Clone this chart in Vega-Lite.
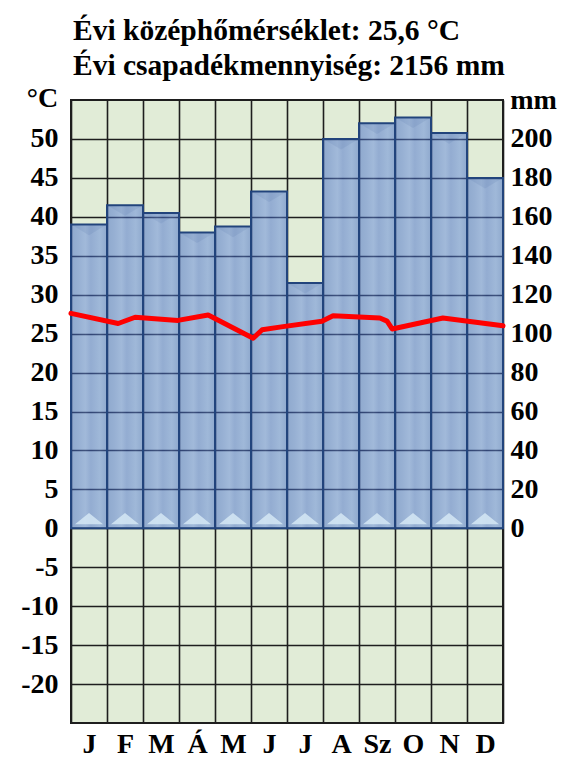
{
  "$schema": "https://vega.github.io/schema/vega-lite/v6.json",
  "width": 432,
  "height": 623,
  "autosize": {"type": "none"},
  "padding": {"left": 71, "top": 100, "right": 73, "bottom": 52},
  "background": "white",
  "title": {
    "text": ["Évi középhőmérséklet: 25,6 °C", "Évi csapadékmennyiség: 2156 mm"],
    "anchor": "start",
    "frame": "group",
    "font": "Liberation Serif",
    "fontWeight": "bold",
    "fontSize": 29.5,
    "lineHeight": 35,
    "color": "black",
    "offset": 3,
    "dx": 2
  },
  "config": {
    "view": {"stroke": "#1e1e1e", "strokeWidth": 2, "fill": "#e1ecd7"},
    "axis": {
      "labelFont": "Liberation Serif",
      "labelFontWeight": "bold",
      "labelFontSize": 28,
      "labelColor": "black",
      "titleFont": "Liberation Serif",
      "titleFontWeight": "bold",
      "titleFontSize": 28,
      "titleColor": "black",
      "ticks": false,
      "domain": false
    }
  },
  "datasets": {
    "months": [
      {"m": 1, "mm": 156},
      {"m": 2, "mm": 166},
      {"m": 3, "mm": 162},
      {"m": 4, "mm": 152},
      {"m": 5, "mm": 155},
      {"m": 6, "mm": 173},
      {"m": 7, "mm": 126},
      {"m": 8, "mm": 200},
      {"m": 9, "mm": 208},
      {"m": 10, "mm": 211},
      {"m": 11, "mm": 203},
      {"m": 12, "mm": 180}
    ],
    "temp": [
      {"pos": 0, "t": 27.6},
      {"pos": 1.31, "t": 26.3},
      {"pos": 1.78, "t": 27.1},
      {"pos": 2.97, "t": 26.7},
      {"pos": 3.81, "t": 27.4},
      {"pos": 5.06, "t": 24.4},
      {"pos": 5.31, "t": 25.5},
      {"pos": 5.89, "t": 25.9},
      {"pos": 6.97, "t": 26.6},
      {"pos": 7.28, "t": 27.3},
      {"pos": 8.58, "t": 27.0},
      {"pos": 8.78, "t": 26.6},
      {"pos": 8.92, "t": 25.6},
      {"pos": 10.33, "t": 27.0},
      {"pos": 12, "t": 26.0}
    ]
  },
  "layer": [
    {
      "data": {"name": "months"},
      "mark": {
        "type": "bar",
        "fill": {
          "gradient": "linear",
          "x1": 0, "x2": 1, "y1": 0, "y2": 0,
          "stops": [
            {"offset": 0, "color": "#3d66c4"},
            {"offset": 0.2, "color": "#4d74cf"},
            {"offset": 0.4, "color": "#6287dc"},
            {"offset": 0.55, "color": "#466dcc"},
            {"offset": 0.8, "color": "#5e85da"},
            {"offset": 1, "color": "#3d66c4"}
          ]
        },
        "fillOpacity": 0.5,
        "stroke": "#22447c",
        "strokeWidth": 2
      },
      "encoding": {
        "x": {
          "field": "m",
          "type": "ordinal",
          "scale": {"paddingInner": 0, "paddingOuter": 0},
          "axis": {
            "title": null,
            "labelAngle": 0,
            "labelExpr": "['J','F','M','Á','M','J','J','A','Sz','O','N','D'][datum.value-1]",
            "grid": true,
            "gridColor": "#1e1e1e",
            "gridWidth": 1.6,
            "tickBand": "extent",
            "labelPadding": 7
          }
        },
        "y": {
          "field": "mm",
          "type": "quantitative",
          "scale": {"domain": [-100, 220], "nice": false, "zero": false},
          "axis": {
            "orient": "right",
            "values": [0, 20, 40, 60, 80, 100, 120, 140, 160, 180, 200],
            "grid": false,
            "title": "mm",
            "titleAngle": 0,
            "titleX": 30,
            "titleY": 0,
            "titleAlign": "center",
            "titleBaseline": "middle",
            "labelPadding": 7
          }
        }
      }
    },
    {
      "data": {"name": "months"},
      "mark": {
        "type": "point",
        "shape": "M-1,0L1,0L0,0.6Z",
        "filled": true,
        "fill": "#3f5f99",
        "opacity": 0.12,
        "size": 1024,
        "strokeWidth": 0,
        "yOffset": 1
      },
      "encoding": {
        "x": {"field": "m", "type": "ordinal", "scale": {"paddingInner": 0, "paddingOuter": 0}, "axis": null},
        "y": {"field": "mm", "type": "quantitative", "scale": {"domain": [-100, 220], "nice": false, "zero": false}, "axis": null}
      }
    },
    {
      "data": {"name": "months"},
      "mark": {
        "type": "point",
        "shape": "M-1,0L0,-0.8L1,0Z",
        "filled": true,
        "fill": "#d5e8f4",
        "opacity": 0.85,
        "size": 784,
        "strokeWidth": 0,
        "yOffset": -4
      },
      "encoding": {
        "x": {"field": "m", "type": "ordinal", "scale": {"paddingInner": 0, "paddingOuter": 0}, "axis": null},
        "y": {"datum": 0, "type": "quantitative", "scale": {"domain": [-100, 220], "nice": false, "zero": false}, "axis": null}
      }
    },
    {
      "data": {"name": "temp"},
      "mark": {"type": "line", "color": "#ff0000", "strokeWidth": 5, "strokeJoin": "round", "strokeCap": "round"},
      "encoding": {
        "x": {"field": "pos", "type": "quantitative", "scale": {"domain": [0, 12], "nice": false, "zero": false}, "axis": null},
        "y": {
          "field": "t",
          "type": "quantitative",
          "scale": {"domain": [-25, 55], "nice": false, "zero": false},
          "axis": {
            "orient": "left",
            "values": [-20, -15, -10, -5, 0, 5, 10, 15, 20, 25, 30, 35, 40, 45, 50],
            "labelExpr": "replace(datum.label, '−', '-')",
            "grid": true,
            "gridColor": "#1e1e1e",
            "gridWidth": 1.6,
            "title": "°C",
            "titleAngle": 0,
            "titleX": -29,
            "titleY": -2,
            "titleAlign": "center",
            "titleBaseline": "middle",
            "labelPadding": 13
          }
        }
      }
    }
  ],
  "resolve": {"scale": {"x": "independent", "y": "independent"}}
}
